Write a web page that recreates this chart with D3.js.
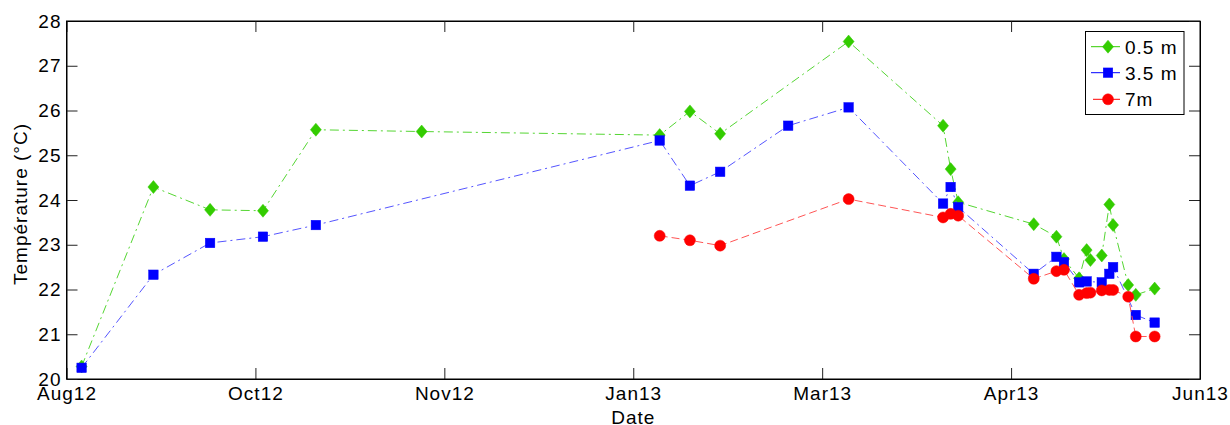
<!DOCTYPE html>
<html>
<head>
<meta charset="utf-8">
<script src="https://cdn.jsdelivr.net/npm/d3@7"></script>
<style>
  html, body { margin: 0; padding: 0; background: #fff; }
  svg { display: block; }
  text { font-family: "Liberation Sans", Arial, Helvetica, sans-serif; fill: #000; }
</style>
</head>
<body>
<svg id="chart" width="1230" height="425"></svg>
<script>
// ---- data ----
const dates05 = ["2012-08-23","2012-09-11","2012-09-26","2012-10-10","2012-10-24","2012-11-21",
  "2013-01-23","2013-01-31","2013-02-08","2013-03-14","2013-04-08","2013-04-10","2013-04-12",
  "2013-05-02","2013-05-08","2013-05-10","2013-05-14","2013-05-16","2013-05-17","2013-05-20",
  "2013-05-22","2013-05-23","2013-05-27","2013-05-29","2013-06-03"];
const temp05 = [20.28,24.29,23.78,23.76,25.57,25.53,
  25.45,25.98,25.48,27.54,25.66,24.69,23.95,
  23.46,23.18,22.68,22.25,22.88,22.66,22.76,
  23.90,23.44,22.10,21.88,22.02];

const dates35 = ["2012-08-23","2012-09-11","2012-09-26","2012-10-10","2012-10-24",
  "2013-01-23","2013-01-31","2013-02-08","2013-02-26","2013-03-14","2013-04-08","2013-04-10","2013-04-12",
  "2013-05-02","2013-05-08","2013-05-10","2013-05-14","2013-05-16","2013-05-20",
  "2013-05-22","2013-05-23","2013-05-29","2013-06-03"];
const temp35 = [20.25,22.33,23.04,23.18,23.44,
  25.33,24.32,24.63,25.66,26.07,23.92,24.29,23.84,
  22.35,22.73,22.61,22.16,22.18,22.16,
  22.35,22.50,21.43,21.26];

const dates7 = ["2013-01-23","2013-01-31","2013-02-08","2013-03-14","2013-04-08","2013-04-10","2013-04-12",
  "2013-05-02","2013-05-08","2013-05-10","2013-05-14","2013-05-16","2013-05-17","2013-05-20",
  "2013-05-22","2013-05-23","2013-05-27","2013-05-29","2013-06-03"];
const temp7 = [23.20,23.10,22.98,24.02,23.61,23.69,23.65,
  22.24,22.41,22.44,21.88,21.92,21.93,21.98,
  21.99,21.99,21.84,20.95,20.95];

const seriesNames = ["0.5 m","3.5 m","7m"];
const xDomain = ["2012-08-19","2013-06-15"];
const xTickDates = ["2012-08-19","2012-10-08","2012-11-27","2013-01-16","2013-03-07","2013-04-26","2013-06-15"];
const yTicks = [20,21,22,23,24,25,26,27,28];
const yDomain = [20,28];
const xLabel = "Date";
const yLabel = "Température (°C)";

// ---- layout ----
const parse = d3.utcParse("%Y-%m-%d");
const fmt = d3.utcFormat("%b%y");
const L = 66.5, R = 1200, T = 21, B = 379;
const svg = d3.select("#chart");
svg.append("rect").attr("width",1230).attr("height",425).attr("fill","#fff");

const x = d3.scaleUtc().domain(xDomain.map(parse)).range([L, R]);
const y = d3.scaleLinear().domain(yDomain).range([B, T]);

const fontSize = 19, ls = 1;
const tickLen = 11;

// axes with inward ticks
const xAxis = d3.axisBottom(x).tickValues(xTickDates.map(parse)).tickFormat(fmt)
  .tickSizeInner(-tickLen).tickSizeOuter(0).tickPadding(8);
const gx = svg.append("g").attr("transform", `translate(0,${B})`).call(xAxis);
gx.selectAll("text").attr("font-size", fontSize).attr("letter-spacing", ls)
  .attr("font-family", "Liberation Sans, Arial, sans-serif").attr("fill","#000");

const yAxis = d3.axisLeft(y).tickValues(yTicks).tickFormat(d3.format("d"))
  .tickSizeInner(-tickLen).tickSizeOuter(0).tickPadding(5);
const gy = svg.append("g").attr("transform", `translate(${L},0)`).call(yAxis);
gy.selectAll("text").attr("font-size", fontSize).attr("letter-spacing", ls)
  .attr("font-family", "Liberation Sans, Arial, sans-serif").attr("fill","#000");

// top and right ticks (box)
const xTop = d3.axisTop(x).tickValues(xTickDates.map(parse)).tickFormat("")
  .tickSizeInner(-tickLen).tickSizeOuter(0);
svg.append("g").attr("transform", `translate(0,${T})`).call(xTop);
const yRight = d3.axisRight(y).tickValues(yTicks).tickFormat("")
  .tickSizeInner(-tickLen).tickSizeOuter(0);
svg.append("g").attr("transform", `translate(${R},0)`).call(yRight);

svg.selectAll(".domain").attr("stroke","#000");
svg.selectAll(".tick line").attr("stroke","#222");

svg.append("rect").attr("x",L).attr("y",T).attr("width",R-L).attr("height",B-T)
  .attr("fill","none").attr("stroke","#000").attr("stroke-width",1);

// labels
svg.append("text").attr("x",(L+R)/2).attr("y",424).attr("text-anchor","middle")
  .attr("font-size",fontSize).attr("letter-spacing",ls).text(xLabel);
svg.append("text").attr("transform",`translate(27,${(T+B)/2+4}) rotate(-90)`)
  .attr("text-anchor","middle").attr("font-size",fontSize).attr("letter-spacing",ls).text(yLabel);

// ---- series ----
const series = [
  {name: seriesNames[0], dates: dates05, vals: temp05, color:"#33cc00", line:"#55d633", dash:"9,4,2,4", shape:"diamond"},
  {name: seriesNames[1], dates: dates35, vals: temp35, color:"#0000ff", line:"#5555ff", dash:"9,4,2,4", shape:"square"},
  {name: seriesNames[2], dates: dates7,  vals: temp7,  color:"#ff0000", line:"#ff5555", dash:"8,4",     shape:"circle"}
];

const lineGen = d3.line().x(d => x(d[0])).y(d => y(d[1]));

function drawMarker(g, shape, cx, cy, color) {
  if (shape === "diamond") {
    g.append("path").attr("d", `M${cx},${cy-6.5}L${cx+5.5},${cy}L${cx},${cy+6.5}L${cx-5.5},${cy}Z`)
      .attr("fill", color).attr("stroke", color).attr("stroke-width", 0.5);
  } else if (shape === "square") {
    g.append("rect").attr("x", cx-4.75).attr("y", cy-4.75).attr("width", 9.5).attr("height", 9.5)
      .attr("fill", color).attr("stroke", color).attr("stroke-width", 0.5);
  } else {
    g.append("circle").attr("cx", cx).attr("cy", cy).attr("r", 5.5)
      .attr("fill", color).attr("stroke", color).attr("stroke-width", 0.5);
  }
}

series.forEach(s => {
  const pts = s.dates.map((d,i) => [parse(d), s.vals[i]]);
  const g = svg.append("g");
  g.append("path").attr("d", lineGen(pts)).attr("fill","none")
    .attr("stroke", s.line).attr("stroke-width", 1).attr("stroke-dasharray", s.dash);
  pts.forEach(p => drawMarker(g, s.shape, x(p[0]), y(p[1]), s.color));
});

// ---- legend ----
const lg = svg.append("g");
lg.append("rect").attr("x",1085.5).attr("y",31.5).attr("width",98.5).attr("height",83)
  .attr("fill","#fff").attr("stroke","#000").attr("stroke-width",1);
const rowsY = [46.7, 72.7, 99.3];
series.forEach((s,i) => {
  const yy = rowsY[i];
  lg.append("line").attr("x1", i === 2 ? 1093 : 1091).attr("x2",1120).attr("y1",yy).attr("y2",yy)
    .attr("stroke", s.color).attr("stroke-width",1);
  drawMarker(lg, s.shape, 1108, yy, s.color);
  lg.append("text").attr("x",1125).attr("y",yy+7).attr("font-size",fontSize)
    .attr("letter-spacing",ls).text(s.name);
});
</script>
</body>
</html>
